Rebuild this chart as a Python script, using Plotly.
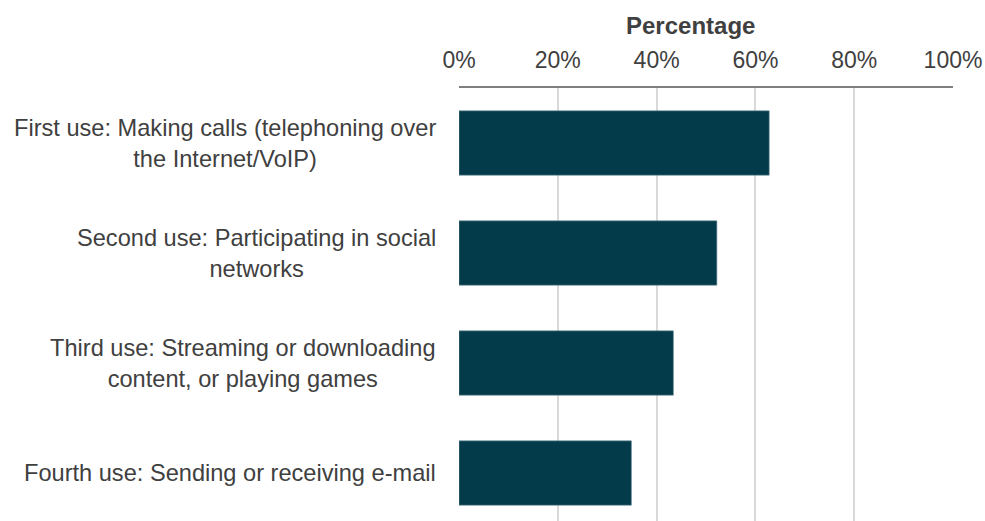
import plotly.graph_objects as go

categories = [
    "First use: Making calls (telephoning over<br>the Internet/VoIP)",
    "Second use: Participating in social<br>networks",
    "Third use: Streaming or downloading<br>content, or playing games",
    "Fourth use: Sending or receiving e-mail",
]
values = [62.8, 52.2, 43.4, 34.9]
tick_vals = [0, 20, 40, 60, 80, 100]
tick_text = ["0%", "20%", "40%", "60%", "80%", "100%"]
axis_title = "Percentage"

FONT = "Liberation Sans, Arial, sans-serif"
TXT = "#404040"

fig = go.Figure(go.Bar(
    x=values, y=categories, orientation="h",
    marker=dict(color="#033B4A", line=dict(color="#6E8F99", width=0.6)),
    width=0.585, hoverinfo="x+y",
))

annotations = [
    dict(x=0, xref="paper", y=c, yref="y", text=c, showarrow=False,
         xanchor="right", yanchor="middle", align="center", xshift=-21,
         font=dict(family=FONT, size=23.6, color=TXT))
    for c in categories
]
annotations.append(dict(
    x=0.468, xref="paper", y=1.1445, yref="paper", text="<b>" + axis_title + "</b>",
    showarrow=False, xanchor="center", yanchor="middle",
    font=dict(family=FONT, size=24, color=TXT),
))

fig.update_layout(
    width=985, height=521,
    margin=dict(l=459, r=32, t=88, b=0),
    paper_bgcolor="white", plot_bgcolor="white",
    showlegend=False,
    annotations=annotations,
    xaxis=dict(
        side="top", range=[0, 100], tickvals=tick_vals, ticktext=tick_text,
        showgrid=True, gridcolor="#D9D9D9", gridwidth=2,
        zeroline=False, showline=True, linecolor="#7F7F7F", linewidth=2,
        ticks="", ticklabelstandoff=9,
        tickfont=dict(family=FONT, size=23, color=TXT),
    ),
    yaxis=dict(
        type="category", categoryorder="array", categoryarray=categories,
        range=[3.436, -0.5], showticklabels=False, showgrid=False,
        zeroline=False, showline=False, ticks="",
    ),
)

fig.write_html("out.html", config={"displayModeBar": False},
               post_script="document.body.style.margin='0';")
